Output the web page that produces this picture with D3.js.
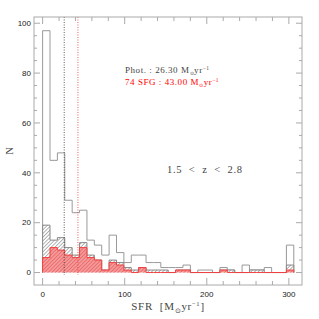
<!DOCTYPE html>
<html>
<head>
<meta charset="utf-8">
<script src="https://cdn.jsdelivr.net/npm/d3@7"></script>
<style>
  body { margin: 0; background: #fff; }
  svg { display: block; }
</style>
</head>
<body>
<div class="canvas"></div>
<script>
// bins of 9 Msun/yr starting at 0
const binWidth = 9;
const photCounts = [97, 45, 48, 29, 24, 25, 13, 11, 7, 15, 8, 4, 7, 7, 4, 4, 2, 2, 2, 3, 0, 1, 1, 0, 2, 1, 0, 3, 1, 1, 2, 0, 0, 11];
const specCounts = [19, 13, 14, 10, 7, 12, 7, 5, 1, 5, 4, 2, 1, 2, 1, 1, 1, 0, 1, 1, 0, 0, 0, 0, 1, 1, 0, 0, 1, 1, 0, 0, 0, 3];
const sfgCounts  = [6, 10, 9, 7, 6, 10, 6, 5, 1, 4, 3, 1, 0, 2, 0, 0, 0, 0, 1, 1, 0, 0, 0, 0, 1, 0, 0, 0, 0, 0, 0, 0, 0, 1];
const medians = [{name: 'Phot.', value: 26.30, colour: '#444'}, {name: '74 SFG', value: 43.00, colour: '#f00'}];
const xTicks = [0, 100, 200, 300];
const yTicks = [0, 20, 40, 60, 80, 100];

const dims = { width: 319, height: 319 };
const frame = { left: 34, right: 302, top: 17, bottom: 285 };

const svg = d3.select('.canvas')
    .append('svg')
    .attr('width', dims.width)
    .attr('height', dims.height);

const x = d3.scaleLinear().domain([-10.5, 316]).range([frame.left, frame.right]);
const y = d3.scaleLinear().domain([-5, 102.5]).range([frame.bottom, frame.top]);

// hatch patterns
const defs = svg.append('defs');
const hatch = (id, bg, stroke) => {
    const p = defs.append('pattern')
        .attr('id', id)
        .attr('patternUnits', 'userSpaceOnUse')
        .attr('width', 2.6).attr('height', 2.6)
        .attr('patternTransform', 'rotate(45)');
    p.append('rect').attr('width', 2.6).attr('height', 2.6).attr('fill', bg);
    p.append('line')
        .attr('x1', 0).attr('y1', 0).attr('x2', 0).attr('y2', 2.6)
        .attr('stroke', stroke).attr('stroke-width', 0.9);
};
hatch('hatchGray', '#fff', '#555');
hatch('hatchRed', '#f59a9a', '#e03a3a');

// step outline of a histogram
const stepPoints = counts => {
    const pts = [[0, 0]];
    counts.forEach((c, i) => {
        pts.push([i * binWidth, c]);
        pts.push([(i + 1) * binWidth, c]);
    });
    pts.push([counts.length * binWidth, 0]);
    return pts;
};
const line = d3.line().x(d => x(d[0])).y(d => y(d[1]));

const drawHist = (counts, fill, stroke, width) => {
    svg.append('path')
        .attr('d', line(stepPoints(counts)) + 'Z')
        .attr('fill', fill)
        .attr('stroke', 'none');
    svg.append('path')
        .attr('d', line(stepPoints(counts)))
        .attr('fill', 'none')
        .attr('stroke', stroke)
        .attr('stroke-width', width);
};

drawHist(photCounts, 'none', '#999', 1);
drawHist(specCounts, 'url(#hatchGray)', '#888', 1);
drawHist(sfgCounts, 'url(#hatchRed)', '#f04040', 1);

// median lines
medians.forEach(m => {
    svg.append('line')
        .attr('x1', x(m.value)).attr('x2', x(m.value))
        .attr('y1', frame.top).attr('y2', y(-1))
        .attr('stroke', m.colour === '#f00' ? '#e33' : '#333')
        .attr('stroke-width', 0.8)
        .attr('stroke-dasharray', '1,1.5');
});

// frame + ticks
const axisCol = '#aaa';
svg.append('rect')
    .attr('x', frame.left).attr('y', frame.top)
    .attr('width', frame.right - frame.left).attr('height', frame.bottom - frame.top)
    .attr('fill', 'none').attr('stroke', axisCol).attr('stroke-width', 1);

const ticks = svg.append('g').attr('stroke', axisCol).attr('stroke-width', 1);
d3.range(0, 320, 20).forEach(v => {
    const len = v % 100 === 0 ? 7 : 4;
    ticks.append('line').attr('x1', x(v)).attr('x2', x(v)).attr('y1', frame.bottom).attr('y2', frame.bottom - len);
    ticks.append('line').attr('x1', x(v)).attr('x2', x(v)).attr('y1', frame.top).attr('y2', frame.top + len);
});
d3.range(0, 105, 5).forEach(v => {
    const len = v % 20 === 0 ? 6 : 3;
    ticks.append('line').attr('y1', y(v)).attr('y2', y(v)).attr('x1', frame.left).attr('x2', frame.left + len);
    ticks.append('line').attr('y1', y(v)).attr('y2', y(v)).attr('x1', frame.right).attr('x2', frame.right - len);
});

// tick labels
svg.selectAll('.xlab').data(xTicks).enter().append('text')
    .attr('x', d => x(d)).attr('y', 297)
    .attr('text-anchor', 'middle')
    .attr('font-family', 'Liberation Sans, Arial, sans-serif')
    .attr('font-size', 8).attr('fill', '#222')
    .text(d => d);
svg.selectAll('.ylab').data(yTicks).enter().append('text')
    .attr('x', 31).attr('y', d => y(d) + 2.8)
    .attr('text-anchor', 'end')
    .attr('font-family', 'Liberation Sans, Arial, sans-serif')
    .attr('font-size', 8).attr('fill', '#222')
    .text(d => d);

// axis titles
const serif = 'Liberation Serif, Times New Roman, serif';
svg.append('text')
    .attr('transform', 'translate(13,151) rotate(-90)')
    .attr('text-anchor', 'middle')
    .attr('font-family', serif).attr('font-size', 10.5).attr('fill', '#444')
    .text('N');

const unitText = (t, size) => {
    t.append('tspan').text('M');
    t.append('tspan').attr('font-size', size * 0.6).attr('dy', size * 0.25).text('\u2299');
    t.append('tspan').attr('dy', -size * 0.25).text('yr');
    t.append('tspan').attr('font-size', size * 0.6).attr('dy', -size * 0.35).text('\u22121');
};

const xt = svg.append('text')
    .attr('x', 168).attr('y', 310)
    .attr('text-anchor', 'middle')
    .attr('font-family', serif).attr('font-size', 11).attr('fill', '#444')
    .attr('letter-spacing', 0.7)
    .attr('xml:space', 'preserve');
xt.append('tspan').text('SFR  [');
unitText(xt, 11);
xt.append('tspan').attr('dy', 11 * 0.35).text(']');

// legend-ish annotations
medians.forEach((m, i) => {
    const t = svg.append('text')
        .attr('x', 125).attr('y', 73 + i * 12)
        .attr('font-family', serif).attr('font-size', 9)
        .attr('fill', m.colour === '#f00' ? '#f00' : '#444')
        .attr('letter-spacing', 0.55)
        .attr('xml:space', 'preserve');
    t.append('tspan').text(`${m.name} : ${m.value.toFixed(2)} `);
    unitText(t, 9);
});

svg.append('text')
    .attr('x', 167).attr('y', 173)
    .attr('font-family', serif).attr('font-size', 10.5).attr('fill', '#444')
    .attr('letter-spacing', 0.7)
    .attr('xml:space', 'preserve')
    .text('1.5  <  z  <  2.8');
</script>
</body>
</html>
